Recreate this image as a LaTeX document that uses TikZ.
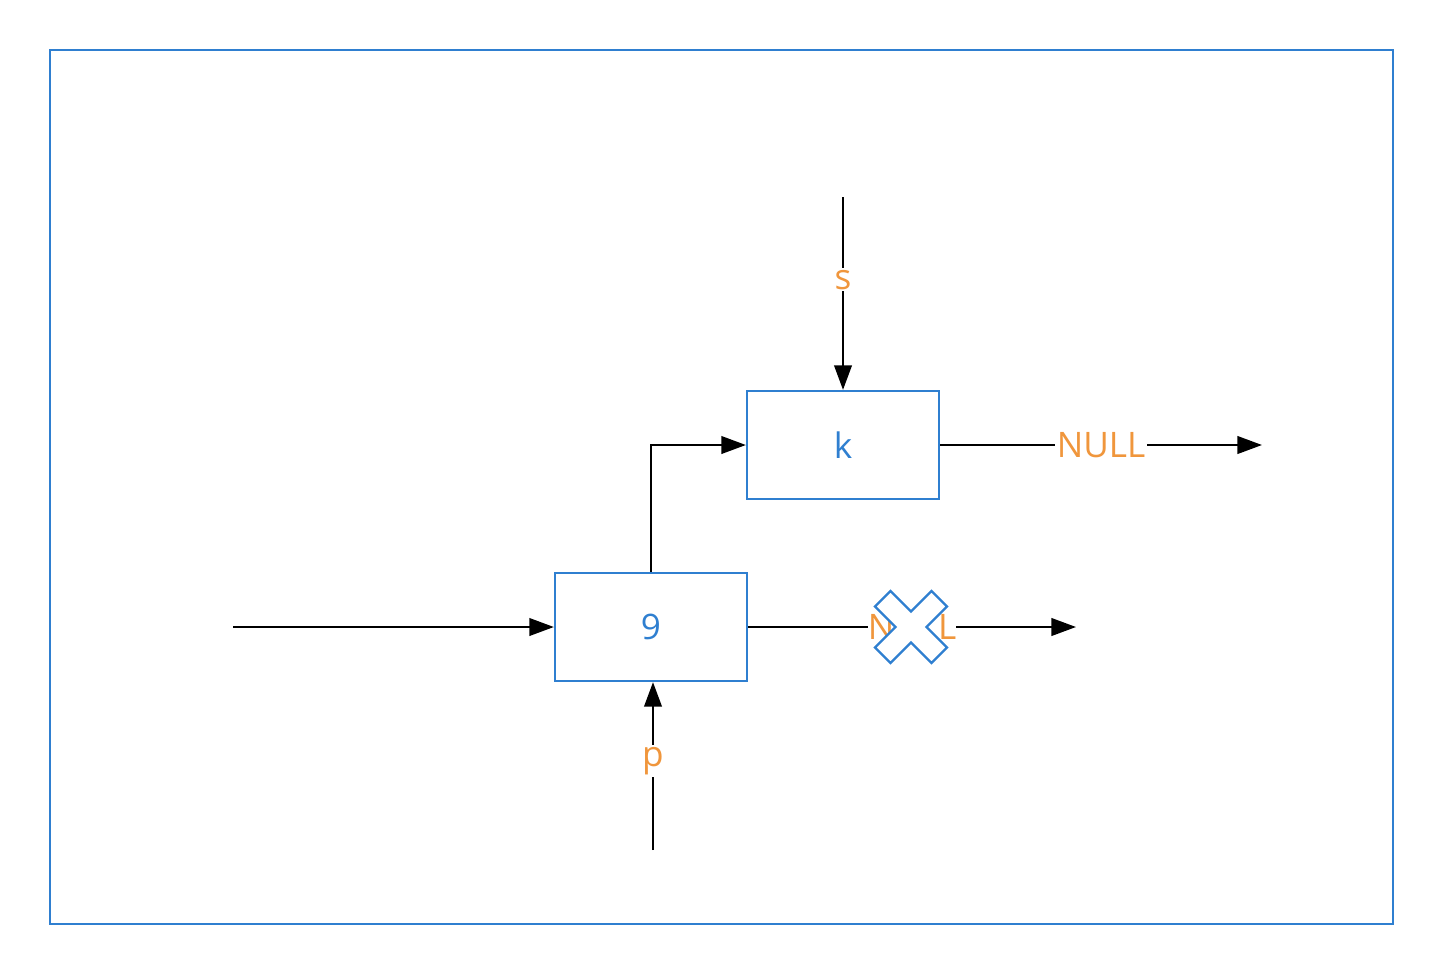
\documentclass[tikz,border=0pt]{standalone}
\usepackage{fontspec}
\setmainfont{Open Sans}
\usetikzlibrary{arrows.meta}
\definecolor{bl}{HTML}{2F7FD0}
\definecolor{og}{HTML}{F0963C}
\begin{document}
\begin{tikzpicture}[x=0.02cm,y=-0.02cm,
  box/.style={draw=bl,line width=1.3pt,minimum width=3.84cm,minimum height=2.16cm,inner sep=0,text=bl,font=\fontsize{20}{24}\selectfont},
  lab/.style={fill=white,text=og,inner sep=1pt,font=\fontsize{20}{24}\selectfont},
  arr/.style={line width=1.3pt,-{Triangle[length=14pt,width=10pt]}}]
\useasboundingbox (0,0) rectangle (1443,974);
\draw[bl,line width=1.3pt] (50,50) rectangle (1393,924);
\node[box] (k) at (843,445) {k};
\node[box] (n9) at (651,627) {9};
\coordinate (s0) at (843,197);
\coordinate (kn) at (1262,445);
\coordinate (l0) at (233,627);
\coordinate (nn) at (1076,627);
\coordinate (p0) at (653,850);
\coordinate (bend) at (651,445);
\draw[arr] (s0) -- node[lab,pos=0.43]{s} (k.north);
\draw[arr] (k.east) -- node[lab,pos=0.5]{NULL} (kn);
\draw[arr] (n9.north) -- (bend) -- (k.west);
\draw[arr] (l0) -- (n9.west);
\draw[arr] (n9.east) -- node[lab,pos=0.5,inner sep=0pt] (nl){NULL} (nn);
\draw[arr] (p0) -- node[lab,pos=0.53]{p} (n9.south-|p0);
\begin{scope}[shift={(911,627)},rotate=45]
\draw[bl,fill=white,line width=1.3pt] (11,11)--(11,40)--(-11,40)--(-11,11)--(-40,11)--(-40,-11)--(-11,-11)--(-11,-40)--(11,-40)--(11,-11)--(40,-11)--(40,11)--cycle;
\end{scope}
\end{tikzpicture}
\end{document}
